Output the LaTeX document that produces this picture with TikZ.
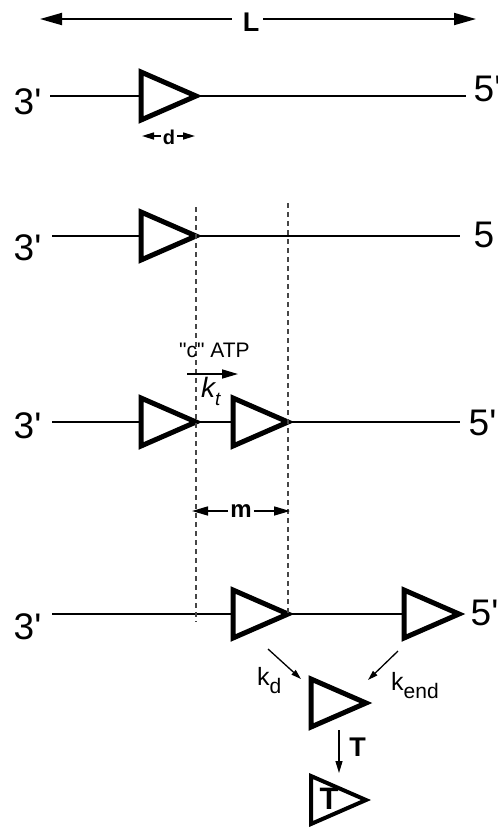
\documentclass[tikz,border=0pt]{standalone}
\usepackage{fontspec}
\setmainfont{Liberation Sans}
\usetikzlibrary{arrows.meta,shapes.geometric}
\definecolor{guidegray}{RGB}{70,70,70}
\newcommand{\primemark}{\textquotesingle}
\begin{document}
\begin{tikzpicture}[x=1pt, y=-1pt,
  strand/.style={line width=1.6pt},
  motor/.style={draw, isosceles triangle, isosceles triangle stretches,
    minimum width=48pt, minimum height=55pt, inner sep=0pt, outer sep=0pt,
    line width=5pt, fill=white, anchor=apex},
  guide/.style={draw=guidegray, line width=1.5pt, dash pattern=on 5pt off 4pt},
  bigtip/.style={-{Triangle[length=22pt,width=12pt]}, line width=1.8pt},
  midtip/.style={-{Triangle[length=16pt,width=9pt]}, line width=1.6pt},
  dimtip/.style={-{Triangle[length=12pt,width=7pt]}, line width=1.6pt},
  ratetip/.style={-{Triangle[length=10pt,width=6pt]}, line width=1.3pt},
  endlab/.style={font=\fontsize{37}{40}\selectfont, inner sep=0pt},
  boldlab/.style={font=\bfseries\fontsize{27}{29}\selectfont, inner sep=0pt}]
\useasboundingbox (0,0) rectangle (498,831);

% length of the lattice
\node[boldlab] (L) at (251,22.5) {L};
\coordinate (Lleft) at (40,19);
\coordinate (Lright) at (476,19);
\draw[bigtip, shorten <=11pt] (L.west |- Lleft) -- (Lleft);
\draw[bigtip, shorten <=4pt] (L.east |- Lright) -- (Lright);

% strands
\coordinate (s1) at (50,96);  \coordinate (e1) at (466,96);
\coordinate (s2) at (52,236); \coordinate (e2) at (460,236);
\coordinate (s3) at (52,422); \coordinate (e3) at (460,422);
\coordinate (s4) at (52,614); \coordinate (e4) at (430,614);
\draw[strand] (s1) -- (e1);
\draw[strand] (s2) -- (e2);
\draw[strand] (s3) -- (e3);
\draw[strand] (s4) -- (e4);

\node[endlab, anchor=west] (l1) at (13.5,101.5) {3\primemark};
\node[endlab, anchor=west] (l2) at (13.5,248) {3\primemark};
\node[endlab, anchor=west] (l3) at (13.5,426) {3\primemark};
\node[endlab, anchor=west] (l4) at (13.5,627) {3\primemark};
\node[endlab, anchor=west] (r1) at (473.5,89) {5\primemark};
\node[endlab, anchor=west] (r2) at (473.5,235) {5};
\node[endlab, anchor=west] (r3) at (468.5,423) {5\primemark};
\node[endlab, anchor=west] (r4) at (470.5,613) {5\primemark};

% motors
\node[motor] (t1) at (196,96) {};
\node[motor] (t2) at (196,236) {};
\node[motor] (t3a) at (196,422) {};
\node[motor] (t3b) at (288,422) {};
\node[motor] (t4a) at (288,614) {};
\node[motor] (t4b) at (459,614) {};
\node[motor] (tfree) at (366,703) {};
\node[motor, line width=4pt] (tpost) at (366,800) {};

% footprint d
\node[font=\bfseries\fontsize{20}{22}\selectfont, inner sep=2pt] (d) at (169,137) {d};
\coordinate (dleft) at (142,136);
\coordinate (dright) at (195,136);
\draw[dimtip] (d.west |- dleft) -- (dleft);
\draw[dimtip] (d.east |- dright) -- (dright);

% guides
\draw[guide] ([yshift=29pt]t2.apex) -- ([yshift=-200pt]t3a.apex);
\draw[guide] ([yshift=219pt]t3b.apex) -- ([yshift=-1pt]t4a.apex);

% stepping
\node[font=\fontsize{21}{23}\selectfont, inner sep=0pt, anchor=base west] (atp) at (179,357)
  {\textquotedbl c\textquotedbl{} ATP};
\coordinate (kt1) at (187,374);
\coordinate (kt2) at (238,374);
\draw[midtip] (kt1) -- (kt2);
\node[font=\itshape\fontsize{28}{30}\selectfont, inner sep=0pt, anchor=base west] (kt) at (201,397)
  {k\raisebox{-8pt}{\fontsize{19}{20}\selectfont t}};

% step m
\node[font=\bfseries\fontsize{24}{26}\selectfont, inner sep=2pt] (m) at (241,511) {m};
\coordinate (mleft) at (192,511);
\coordinate (mright) at (290,511);
\draw[midtip] (m.west) -- (mleft);
\draw[midtip] (m.east) -- (mright);

% release
\coordinate (kd1) at (268,649);
\coordinate (kd2) at (301,679);
\coordinate (ke1) at (398,651);
\coordinate (ke2) at (368,680);
\draw[ratetip] (kd1) -- (kd2);
\draw[ratetip] (ke1) -- (ke2);
\node[font=\fontsize{25}{27}\selectfont, inner sep=0pt, anchor=base west] (kd) at (257,685)
  {k\raisebox{-8pt}{\fontsize{21}{22}\selectfont d}};
\node[font=\fontsize{25}{27}\selectfont, inner sep=0pt, anchor=base west] (kend) at (391,690)
  {k\raisebox{-8pt}{\fontsize{21}{22}\selectfont end}};

\coordinate (T1) at (339,730);
\coordinate (T2) at (339,773);
\draw[ratetip, -{Triangle[length=12pt,width=7pt]}] (T1) -- (T2);
\node[boldlab] (Tlab) at (357.5,747.5) {T};
\node[font=\bfseries\fontsize{31}{33}\selectfont, inner sep=0pt] (Tin) at (329,798.5) {T};
\end{tikzpicture}
\end{document}
